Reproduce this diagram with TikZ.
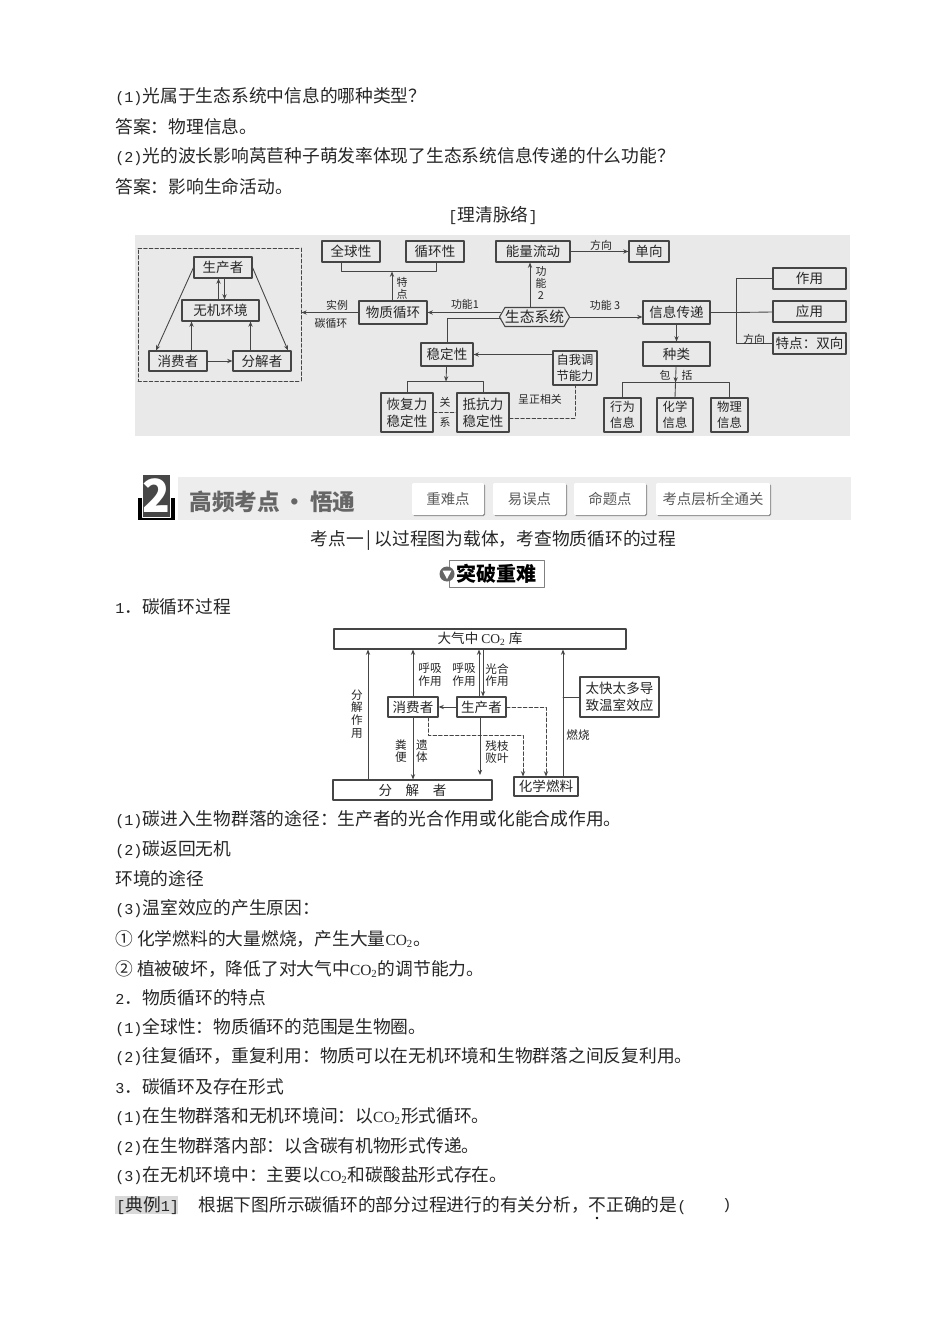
\documentclass[tikz,border=0pt]{standalone}
\usepackage{fontspec}
\setmainfont{Noto Sans CJK SC}
\newfontfamily\monozi{Liberation Mono}
\newfontfamily\serifzi{Liberation Serif}
\usetikzlibrary{calc}
\usetikzlibrary{arrows.meta}
\usetikzlibrary{shapes.symbols}
\usetikzlibrary{shadows}
\definecolor{panelgray}{rgb}{0.914,0.914,0.914}
\definecolor{bannergray}{rgb}{0.93,0.93,0.93}
\definecolor{linegray}{rgb}{0.27,0.27,0.27}
\definecolor{titlegray}{rgb}{0.4,0.4,0.4}
\definecolor{hlgray}{rgb}{0.85,0.85,0.85}
\def\px{0.02cm}
\newcommand{\shu}[1]{{\monozi\fontsize{8.6pt}{10pt}\selectfont #1}}
\newcommand{\cotwo}{{\serifzi\fontsize{8.8pt}{10pt}\selectfont CO\textsubscript{2}}}
\tikzset{
  zhengwen/.style={anchor=west,inner sep=0pt,yshift=-1*\px,text=black!85,font=\fontsize{10.1pt}{12pt}\selectfont},
  kuang/.style 2 args={draw=linegray,line width=0.6pt,inner sep=0pt,align=center,text=black!85,
    minimum width=#1*\px,minimum height=#2*\px,font=\fontsize{7.7pt}{9.7pt}\selectfont},
  xiaozi/.style={font=\fontsize{7pt}{9.2pt}\selectfont},
  biaoqian/.style={inner sep=0pt,align=center,text=black!85,font=\fontsize{6.2pt}{6.9pt}\selectfont},
  biaoqianb/.style={biaoqian,font=\fontsize{6.6pt}{7.2pt}\selectfont},
  xian/.style={line width=0.5pt,color=linegray},
  xuxian/.style={line width=0.5pt,color=linegray,dash pattern=on 2pt off 1.2pt},
  tab/.style 2 args={fill=white,rounded corners=0.8pt,inner sep=0pt,text=black!65,
    minimum width=#1*\px,minimum height=#2*\px,font=\fontsize{8.2pt}{9pt}\selectfont,
    drop shadow={shadow xshift=0.6pt,shadow yshift=-0.6pt,fill=black!45,opacity=1}}
}
\begin{document}
\begin{tikzpicture}[line cap=round,line join=round,>={Stealth[length=3pt,width=2.4pt]},x=0.02cm,y=-0.02cm]
\useasboundingbox (0,0) rectangle (950,1317);
\fill [white] (0,0) rectangle (950,1317);
% text above
\node [zhengwen] (q1) at (115,96) {\shu{(1)}光属于生态系统中信息的哪种类型？};
\node [zhengwen] (a1) at (115,126) {答案：物理信息。};
\node [zhengwen] (q2) at (115,156) {\shu{(2)}光的波长影响莴苣种子萌发率体现了生态系统信息传递的什么功能？};
\node [zhengwen] (a2) at (115,186) {答案：影响生命活动。};
\node [zhengwen,anchor=center] (title1) at (493,215) {\shu{[}理清脉络\shu{]}};
% first diagram
\fill [panelgray] (135,235) rectangle (850,436);
\node [kuang={58}{21}] (shengchan) at (223,267.5) {生产者};
\node [kuang={77}{21}] (wuji) at (220.5,310.5) {无机环境};
\node [kuang={58}{20}] (xiaofei) at (178,361) {消费者};
\node [kuang={58}{20}] (fenjie) at (262,361) {分解者};
\node [draw=linegray,line width=0.5pt,dash pattern=on 2pt off 1.2pt,minimum width=163*\px,minimum height=133*\px,inner sep=0pt] (xukuang) at (219.5,314.5) {};
\node [kuang={58}{21}] (quanqiu) at (351,251.5) {全球性};
\node [kuang={58}{21}] (xunhuan) at (435,251.5) {循环性};
\node [kuang={68}{23}] (wuzhi) at (393,312.5) {物质循环};
\node [kuang={52}{23}] (wending) at (447,354.5) {稳定性};
\node [kuang={52}{39}] (huifu) at (407,412.5) {恢复力\\稳定性};
\node [kuang={52}{39}] (dikang) at (483,412.5) {抵抗力\\稳定性};
\node [kuang={74}{21}] (nengliang) at (533,251.5) {能量流动};
\node [kuang={40}{21}] (danxiang) at (649,251.5) {单向};
\node [signal,signal to=east and west,signal pointer angle=120,draw=linegray,line width=0.6pt,inner sep=0pt,minimum height=19*\px,font=\fontsize{8.4pt}{10pt}\selectfont,text=black!85] (shengtai) at (534.5,317) {生态系统};
\node [kuang={67}{23}] (xinxi) at (676.5,312.5) {信息传递};
\node [kuang={67}{24}] (zhonglei) at (676.5,354) {种类};
\node [kuang={73}{21}] (zuoyong) at (809.5,278.5) {作用};
\node [kuang={73}{21}] (yingyong) at (809.5,311.5) {应用};
\node [kuang={73}{21}] (tedian) at (809.5,343.5) {特点：双向};
\node [kuang={44}{34},xiaozi] (ziwo) at (575,368) {自我调\\节能力};
\node [kuang={37}{34},xiaozi] (xingwei) at (622.5,415) {行为\\信息};
\node [kuang={36}{34},xiaozi] (huaxue) at (675,415) {化学\\信息};
\node [kuang={37}{34},xiaozi] (wuli) at (729.5,415) {物理\\信息};
\coordinate (tezhong) at (392,271.5);
\coordinate (wenzhong) at (446,381.5);
\coordinate (baozhong) at (675.5,382.5);
\coordinate (fangzhong) at (736,312.5);
\draw [->,xian] (shengchan.west) -- ([xshift=-22*\px]xiaofei.north);
\draw [->,xian] (shengchan.east) -- ([xshift=26*\px]fenjie.north);
\draw [->,xian] ([xshift=-2*\px]wuji.north) -- ([xshift=-2*\px]wuji.north |- shengchan.south);
\draw [->,xian] ([xshift=4*\px]wuji.north |- shengchan.south) -- ([xshift=4*\px]wuji.north);
\draw [->,xian] ([xshift=13.5*\px]xiaofei.north) -- ([xshift=-29*\px]wuji.south);
\draw [->,xian] ([xshift=-11.5*\px]fenjie.north) -- ([xshift=30*\px]wuji.south);
\draw [->,xian] (xiaofei) -- (fenjie);
\draw [->,xian] (wuzhi) -- (xukuang.east |- wuzhi);
\draw [->,xian] (wuzhi.north -| tezhong) -- (tezhong);
\draw [xian] (quanqiu.south -| 341,0) |- (tezhong) -| (xunhuan.south -| 436,0);
\draw [->,xian] ([xshift=1.5*\px]shengtai.west |- wuzhi.east) -- (wuzhi.east);
\draw [xian] ([xshift=2*\px]shengtai.west |- 0,318) -| (wending.north);
\draw [->,xian] (ziwo.west |- wending) -- (wending);
\draw [->,xian] (wending) -- (wenzhong);
\draw [xian] (huifu.north) |- (wenzhong) -| (dikang.north);
\draw [xuxian] (huifu) -- (dikang);
\draw [xuxian] ([yshift=-5.5*\px]dikang.east) -| (ziwo.south);
\draw [->,xian] ([xshift=-3*\px]shengtai.north -| nengliang.south) -- ([xshift=-3*\px]nengliang.south);
\draw [->,xian] (nengliang) -- (danxiang);
\draw [->,xian] (shengtai.east) -- (xinxi.west |- shengtai.east);
\draw [->,xian] (xinxi) -- (zhonglei);
\draw [->,xian] (zhonglei) -- (baozhong);
\draw [xian] (xingwei.north) |- (baozhong) -| (wuli.north);
\draw [xian] (baozhong) -- (huaxue.north);
\draw [xian] (xinxi) -- (fangzhong);
\draw [xian] (zuoyong) -| (fangzhong) |- (tedian);
\draw [xian] (fangzhong) -- (yingyong);
\node [biaoqian] (shili) at (337,305) {实例};
\node [biaoqian] (tanxun) at (331,323) {碳循环};
\node [biaoqian] (tedianzi) at (402,288) {特\\点};
\node [biaoqian] (gong1) at (465,304) {功能1};
\node [biaoqian] (guan) at (445,402) {关};
\node [biaoqian] (xi) at (445,422) {系};
\node [biaoqian] (zhengxiang) at (540,399) {呈正相关};
\node [biaoqian] (gong2) at (541,283) {功\\能\\2};
\node [biaoqian] (fang1) at (601,245) {方向};
\node [biaoqian] (gong3) at (605,305) {功能 3};
\node [biaoqian] (bao) at (665,375) {包};
\node [biaoqian] (kuo) at (687,375) {括};
\node [biaoqian] (fang2) at (754,339) {方向};
% banner
\fill [bannergray] (178,477) rectangle (851,520);
\node [fill=black,minimum width=37*\px,minimum height=22*\px,inner sep=0pt] (heikuai) at (156.5,509) {};
\node [fill=black!72,draw=white,line width=0.4pt,minimum width=21*\px,minimum height=43*\px,inner sep=0pt,text=white,font=\fontsize{26pt}{28pt}\bfseries\selectfont] (erzi) at (156.5,495.5) {2};
\node [zhengwen,text=titlegray,font=\fontsize{12.9pt}{16pt}\bfseries\selectfont] (gaopin) at (189,500.5) {高频考点\,·\,悟通};
\node [tab={72}{32}] (tab1) at (448,499) {重难点};
\node [tab={73}{32}] (tab2) at (529.5,499) {易误点};
\node [tab={72}{32}] (tab3) at (610,499) {命题点};
\node [tab={114}{32}] (tab4) at (713,499) {考点层析全通关};
\node [zhengwen,anchor=center] (kaodian) at (493.5,539) {考点一\,|\,以过程图为载体，考查物质循环的过程};
\node [draw=black!50,line width=0.5pt,fill=white,minimum width=95*\px,minimum height=27*\px,inner sep=0pt,text=black,font=\fontsize{11.4pt}{13pt}\bfseries\selectfont] (tupo) at (496.5,573.5) {突破重难};
\node [circle,fill=black!60,minimum size=15*\px,inner sep=0pt] (tubiao) at (447,574) {};
\fill [white] (442.5,570.5) -- (451.5,570.5) -- (447,579) -- cycle;
\node [zhengwen] (s1) at (115,606) {\shu{1}．碳循环过程};
% second diagram
\node [kuang={292}{20}] (daqi) at (480,639) {大气中 {\serifzi CO\textsubscript{2}} 库};
\node [kuang={50}{20}] (bxiaofei) at (413,707) {消费者};
\node [kuang={49}{20}] (bsheng) at (481.5,707) {生产者};
\node [kuang={79}{40}] (taikuai) at (619.5,697) {太快太多导\\致温室效应};
\node [kuang={159}{20}] (bfenjie) at (412.5,790) {分\quad 解\quad 者};
\node [kuang={64}{19}] (huaran) at (546,786.5) {化学燃料};
\coordinate (canzhi) at (480,775);
\coordinate (gouzhi) at (563,697);
\coordinate (xuzhong) at (428,735);
\draw [->,xian] (bfenjie.north -| 368,0) -- (daqi.south -| 368,0);
\draw [->,xian] (bxiaofei.north) -- (daqi.south -| bxiaofei.north);
\draw [->,xian] (bsheng.north -| 479,0) -- (daqi.south -| 479,0);
\draw [->,xian] (daqi.south -| 483,0) -- (bsheng.north -| 483,0);
\draw [->,xian] (bsheng) -- (bxiaofei);
\draw [->,xian] (bxiaofei.south) -- (bfenjie.north -| bxiaofei.south);
\draw [->,xian] (bsheng.south -| canzhi) -- (canzhi);
\draw [->,xian] (huaran.north -| gouzhi) -- (daqi.south -| gouzhi);
\draw [xian] (taikuai.west) -- (gouzhi);
\draw [->,xuxian] (bsheng.east) -| (huaran.north);
\draw [->,xuxian] ([xshift=15*\px]bxiaofei.south) |- (xuzhong -| 523,0) -- (huaran.north -| 523,0);
\node [biaoqianb] (fenjiezi) at (357,714) {分\\解\\作\\用};
\node [biaoqianb] (huxi1) at (430,675) {呼吸\\作用};
\node [biaoqianb] (huxi2) at (464,675) {呼吸\\作用};
\node [biaoqianb] (guanghe) at (497,675) {光合\\作用};
\node [biaoqianb] (fenbian) at (401,751) {粪\\便};
\node [biaoqianb] (yiti) at (422,751) {遗\\体};
\node [biaoqianb] (canzhizi) at (497,752) {残枝\\败叶};
\node [biaoqianb] (ranshao) at (578,735) {燃烧};
% text below
\node [zhengwen] (t1) at (115,819) {\shu{(1)}碳进入生物群落的途径：生产者的光合作用或化能合成作用。};
\node [zhengwen] (t2) at (115,849) {\shu{(2)}碳返回无机};
\node [zhengwen] (t3) at (115,878) {环境的途径};
\node [zhengwen] (t4) at (115,908) {\shu{(3)}温室效应的产生原因：};
\node [zhengwen] (t5) at (115,938) {① 化学燃料的大量燃烧，产生大量\cotwo{}。};
\node [zhengwen] (t6) at (115,968) {② 植被破坏，降低了对大气中\cotwo{}的调节能力。};
\node [zhengwen] (t7) at (115,997) {\shu{2}．物质循环的特点};
\node [zhengwen] (t8) at (115,1027) {\shu{(1)}全球性：物质循环的范围是生物圈。};
\node [zhengwen] (t9) at (115,1056) {\shu{(2)}往复循环，重复利用：物质可以在无机环境和生物群落之间反复利用。};
\node [zhengwen] (t10) at (115,1086) {\shu{3}．碳循环及存在形式};
\node [zhengwen] (t11) at (115,1116) {\shu{(1)}在生物群落和无机环境间：以\cotwo{}形式循环。};
\node [zhengwen] (t12) at (115,1146) {\shu{(2)}在生物群落内部：以含碳有机物形式传递。};
\node [zhengwen] (t13) at (115,1175) {\shu{(3)}在无机环境中：主要以\cotwo{}和碳酸盐形式存在。};
\fill [hlgray] (115,1196) rectangle (178,1214);
\node [zhengwen] (dianli) at (116,1205) {\shu{[}典例\shu{1]}};
\node [zhengwen] (t14) at (198,1205) {根据下图所示碳循环的部分过程进行的有关分析，不正确的是\shu{(}};
\node [zhengwen] (kuohao) at (722,1205) {\shu{)}};
\fill [black] (597,1218) circle (1.3);
\end{tikzpicture}
\end{document}
